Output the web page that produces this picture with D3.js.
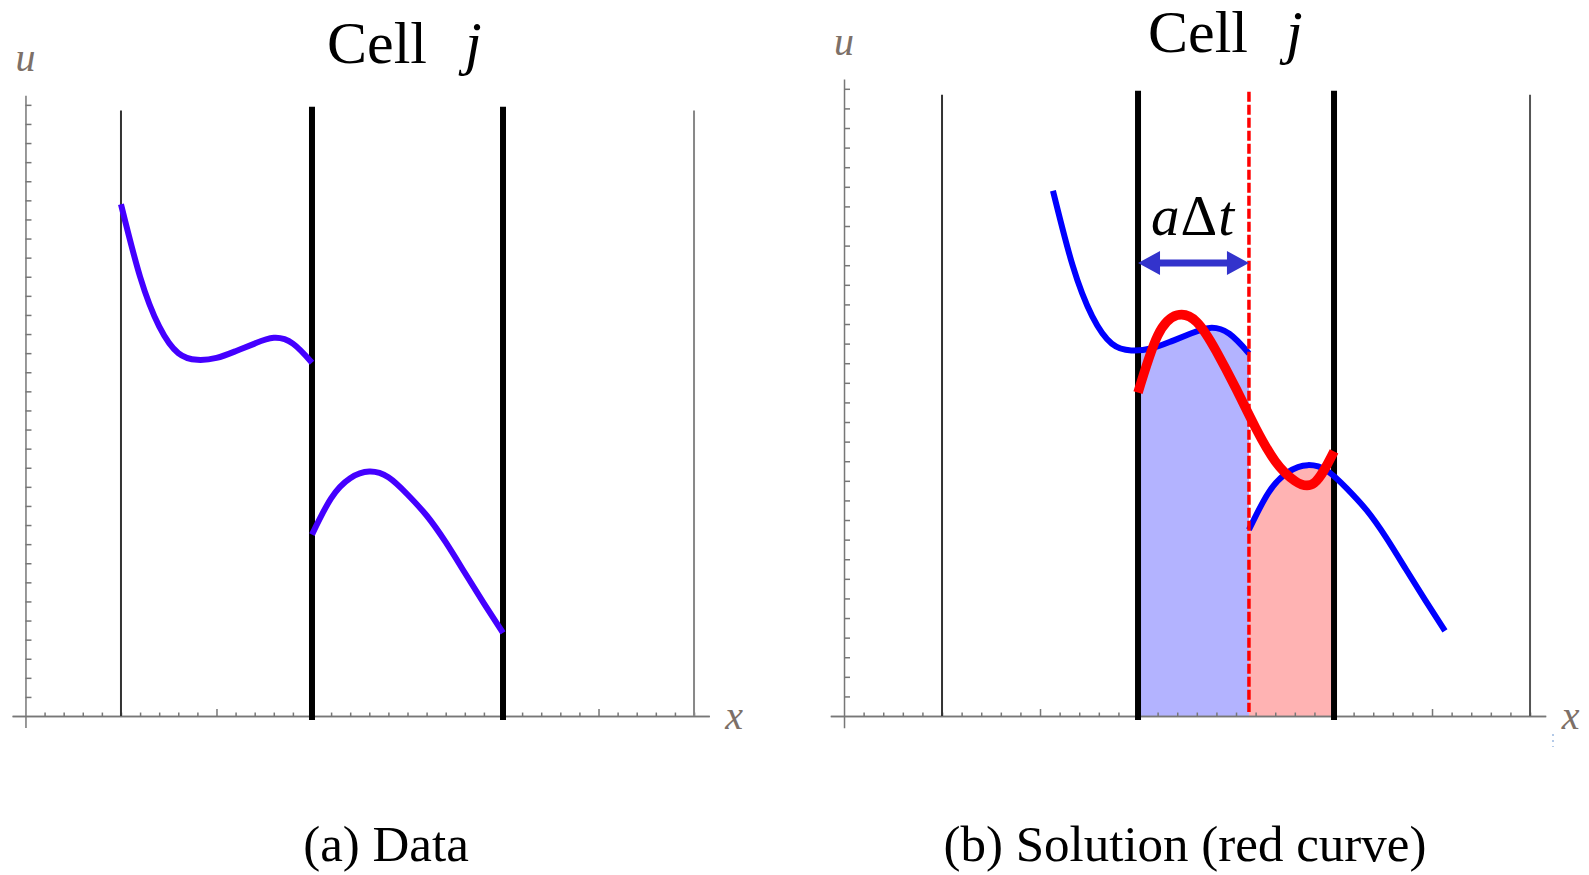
<!DOCTYPE html>
<html>
<head>
<meta charset="utf-8">
<script src="https://cdn.jsdelivr.net/npm/d3@7"></script>
<style>
  html, body { margin: 0; padding: 0; background: #fff; }
  svg { display: block; }
  .axis path, .axis line { stroke: #777; stroke-width: 1.5; }
  text { font-family: "Liberation Serif", "DejaVu Serif", serif; }
</style>
</head>
<body>
<svg id="chart" width="1589" height="875"></svg>
<script>
// cell boundaries (x) and their line tops (u)
var cellEdges = [0.5, 1.5, 2.5, 3.5]
var edgeTops = [3.17, 3.19, 3.19, 3.17]

// data, left half of each cell pair
var piece1X = [0.5, 0.6, 0.7, 0.8, 0.9, 1.0, 1.1, 1.2, 1.3, 1.4, 1.5]
var piece1U = [2.68, 2.30, 2.04, 1.90, 1.865, 1.875, 1.91, 1.95, 1.98, 1.95, 1.85]
var piece2X = [1.5, 1.6, 1.7, 1.8, 1.9, 2.0, 2.1, 2.2, 2.3, 2.4, 2.5]
var piece2U = [0.95, 1.14, 1.245, 1.28, 1.25, 1.16, 1.05, 0.91, 0.75, 0.59, 0.435]

// solution in cell j (red curve)
var solutionX = [1.5, 1.6, 1.7, 1.8, 1.9, 2.0, 2.1, 2.2, 2.3, 2.4, 2.5]
var solutionU = [1.65, 1.94, 2.045, 2.01, 1.86, 1.67, 1.47, 1.30, 1.20, 1.19, 1.35]

// shift a*dt
var aDt = 0.566

var xMinor = d3.range(1, 36).map(function(i) { return i / 10 }).filter(function(v) { return Math.abs(v - 1) > 1e-9 && Math.abs(v - 3) > 1e-9 })
var xMajor = [1, 3]
var yMinor = d3.range(1, 33).map(function(i) { return i / 10 })

var svg = d3.select("#chart")

function pts(xs, us, dx) {
    return xs.map(function(x, i) { return [x + (dx || 0), us[i]] })
}

function drawAxes(g, x, y) {
    g.append("g").attr("class", "axis")
        .attr("transform", "translate(0," + y(0) + ")")
        .call(d3.axisTop(x).tickValues(xMinor).tickFormat("").tickSize(3.5).tickSizeOuter(0))
    g.append("g").attr("class", "axis")
        .attr("transform", "translate(0," + y(0) + ")")
        .call(d3.axisTop(x).tickValues(xMajor).tickFormat("").tickSize(7).tickSizeOuter(0))
    g.append("g").attr("class", "axis")
        .attr("transform", "translate(" + x(0) + ",0)")
        .call(d3.axisRight(y).tickValues(yMinor).tickFormat("").tickSize(6).tickSizeOuter(0))

    g.append("text").text("u")
        .attr("x", x(0) - 10).attr("y", y.range()[1] - 24)
        .attr("font-style", "italic").attr("font-size", 40).attr("fill", "#7d7068")
    g.append("text").text("x")
        .attr("x", x.range()[1] + 16).attr("y", y(0) + 13)
        .attr("font-style", "italic").attr("font-size", 40).attr("fill", "#7d7068")
}

function drawEdges(g, x, y, colors) {
    g.selectAll(".edge")
        .data(cellEdges).enter()
        .append("line")
        .attr("class", "edge")
        .attr("x1", function(d) { return x(d) })
        .attr("x2", function(d) { return x(d) })
        .attr("y1", function(d, i) { return y(edgeTops[i]) })
        .attr("y2", function(d, i) { return (i === 1 || i === 2) ? y(0) + 4 : y(0) })
        .attr("stroke", function(d, i) { return colors[i] })
        .attr("stroke-width", function(d, i) { return (i === 1 || i === 2) ? 6 : 2 })
}

function title(g, x0, y0) {
    var t = g.append("text").attr("x", x0).attr("y", y0).attr("font-size", 60).attr("fill", "#000")
    t.append("tspan").text("Cell")
    t.append("tspan").text("j").attr("font-style", "italic").attr("dx", 38)
}

// ---------- panel (a) ----------
var xa = d3.scaleLinear().domain([-0.07, 3.58]).range([12.1, 709.3])
var ya = d3.scaleLinear().domain([-0.06, 3.25]).range([727.5, 95.3])
var ga = svg.append("g")

drawAxes(ga, xa, ya)
drawEdges(ga, xa, ya, ["#333", "#000", "#000", "#888"])

var lineA = d3.line().x(function(d) { return xa(d[0]) }).y(function(d) { return ya(d[1]) })
    .curve(d3.curveNatural)

ga.selectAll(".data")
    .data([pts(piece1X, piece1U), pts(piece2X, piece2U)]).enter()
    .append("path")
    .attr("class", "data")
    .attr("d", lineA)
    .attr("fill", "none")
    .attr("stroke", "#4400ff")
    .attr("stroke-width", 6)

title(ga, 327, 63)

// ---------- panel (b) ----------
var xb = d3.scaleLinear().domain([-0.07, 3.58]).range([830.3, 1545.7])
var yb = d3.scaleLinear().domain([-0.06, 3.25]).range([727.8, 79])
var gb = svg.append("g")

var lineB = d3.line().x(function(d) { return xb(d[0]) }).y(function(d) { return yb(d[1]) })
    .curve(d3.curveNatural)
var areaB = d3.area().x(function(d) { return xb(d[0]) }).y0(yb(0)).y1(function(d) { return yb(d[1]) })
    .curve(d3.curveNatural)

var foot = cellEdges[1] + aDt
var defs = svg.append("defs")
defs.append("clipPath").attr("id", "clipBlue").append("rect")
    .attr("x", xb(cellEdges[1])).attr("y", 0)
    .attr("width", xb(foot) - xb(cellEdges[1])).attr("height", 875)
defs.append("clipPath").attr("id", "clipRed").append("rect")
    .attr("x", xb(foot)).attr("y", 0)
    .attr("width", xb(cellEdges[2]) - xb(foot)).attr("height", 875)

gb.append("path").datum(pts(piece1X, piece1U, aDt))
    .attr("d", areaB).attr("fill", "#b3b3ff").attr("clip-path", "url(#clipBlue)")
gb.append("path").datum(pts(piece2X, piece2U, aDt))
    .attr("d", areaB).attr("fill", "#ffb3b3").attr("clip-path", "url(#clipRed)")

drawAxes(gb, xb, yb)
drawEdges(gb, xb, yb, ["#333", "#000", "#000", "#555"])

gb.selectAll(".data")
    .data([pts(piece1X, piece1U, aDt), pts(piece2X, piece2U, aDt)]).enter()
    .append("path")
    .attr("class", "data")
    .attr("d", lineB)
    .attr("fill", "none")
    .attr("stroke", "#0000ff")
    .attr("stroke-width", 6)

// foot of characteristic
gb.append("line")
    .attr("x1", xb(foot)).attr("x2", xb(foot))
    .attr("y1", yb(3.185)).attr("y2", yb(0.02))
    .attr("stroke", "#ff0000").attr("stroke-width", 3.5)
    .attr("stroke-dasharray", "10,3")

gb.append("path").datum(pts(solutionX, solutionU))
    .attr("d", lineB).attr("fill", "none")
    .attr("stroke", "#ff0000").attr("stroke-width", 9.5)

// a*dt arrow
var ay = 263, ax0 = xb(cellEdges[1]), ax1 = xb(foot), hl = 22, hw = 12
gb.append("line")
    .attr("x1", ax0 + hl - 2).attr("x2", ax1 - hl + 2)
    .attr("y1", ay).attr("y2", ay)
    .attr("stroke", "#3333cc").attr("stroke-width", 7)
gb.append("path")
    .attr("d", "M" + ax0 + "," + ay + "L" + (ax0 + hl) + "," + (ay - hw) + "L" + (ax0 + hl) + "," + (ay + hw) + "Z" +
               "M" + ax1 + "," + ay + "L" + (ax1 - hl) + "," + (ay - hw) + "L" + (ax1 - hl) + "," + (ay + hw) + "Z")
    .attr("fill", "#3333cc")

var lab = gb.append("text").attr("x", 1151).attr("y", 235).attr("font-size", 57).attr("fill", "#000")
lab.append("tspan").text("a").attr("font-style", "italic")
lab.append("tspan").text("Δ").attr("dx", 1)
lab.append("tspan").text("t").attr("font-style", "italic").attr("dx", 1)

title(gb, 1148, 52)

// little stray mark under x label
gb.append("line")
    .attr("x1", 1553).attr("x2", 1553).attr("y1", 734).attr("y2", 747)
    .attr("stroke", "#9bb8e0").attr("stroke-width", 1.5).attr("stroke-dasharray", "2,4")

// captions
svg.append("text").text("(a) Data")
    .attr("x", 386).attr("y", 861).attr("text-anchor", "middle").attr("font-size", 51)
svg.append("text").text("(b) Solution (red curve)")
    .attr("x", 1185).attr("y", 861).attr("text-anchor", "middle").attr("font-size", 51)
</script>
</body>
</html>
